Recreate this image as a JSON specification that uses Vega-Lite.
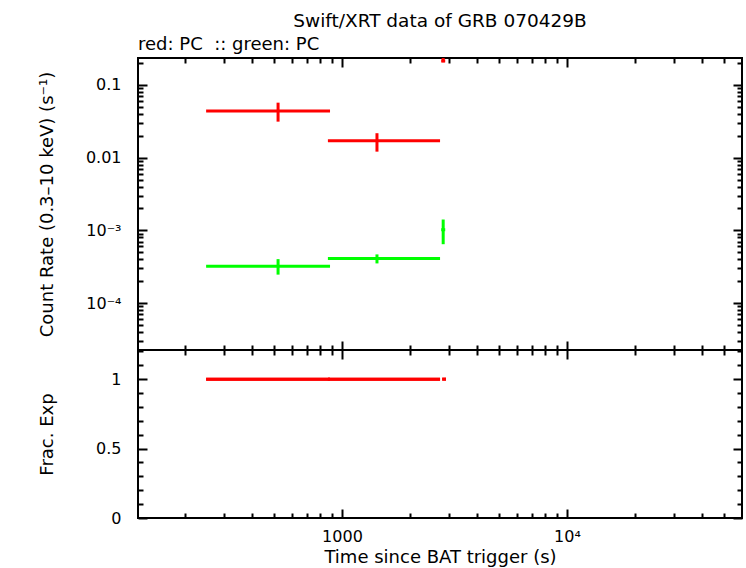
{
  "$schema": "https://vega.github.io/schema/vega-lite/v6.json",
  "autosize": {"type": "pad"},
  "padding": {"left": 36, "top": 11, "right": 4, "bottom": 5},
  "background": "white",
  "bounds": "flush",
  "title": {"text": "Swift/XRT data of GRB 070429B", "anchor": "middle", "frame": "group", "fontSize": 18.5, "fontWeight": "normal", "font": "DejaVu Sans", "color": "black", "offset": 5},
  "config": {
    "view": {"stroke": "black", "strokeWidth": 2},
    "title": {"font": "DejaVu Sans", "color": "black"},
    "axis": {"domain": false, "grid": false, "tickColor": "black", "tickWidth": 2, "labelFont": "DejaVu Sans", "labelFontSize": 16, "labelColor": "black", "titleFont": "DejaVu Sans", "titleFontSize": 18, "titleFontWeight": "normal", "titleColor": "black", "labelOverlap": false, "labelFlush": false, "labelPadding": 19},
    "axisLeft": {"labelPadding": 26}
  },
  "datasets": {
    "rate": [
      {"series": "red", "t": 520, "tlo": 249, "thi": 885, "rate": 0.0438, "rlo": 0.0313, "rhi": 0.0571},
      {"series": "red", "t": 1431, "tlo": 866, "thi": 2729, "rate": 0.01714, "rlo": 0.0121, "rhi": 0.0217},
      {"series": "red", "t": 2818, "tlo": 2762, "thi": 2877, "rate": 0.214, "rlo": 0.205, "rhi": 0.6},
      {"series": "green", "t": 520, "tlo": 249, "thi": 885, "rate": 0.00032, "rlo": 0.000246, "rhi": 0.000402},
      {"series": "green", "t": 1431, "tlo": 866, "thi": 2729, "rate": 0.000411, "rlo": 0.000351, "rhi": 0.000467},
      {"series": "green", "t": 2818, "tlo": 2762, "thi": 2877, "rate": 0.00102, "rlo": 0.000645, "rhi": 0.00141}
    ],
    "frac": [
      {"tlo": 249, "thi": 885, "frac": 1},
      {"tlo": 866, "thi": 2729, "frac": 1},
      {"tlo": 2790, "thi": 2900, "frac": 1}
    ]
  },
  "spacing": 0,
  "vconcat": [
    {
      "width": 604,
      "height": 292,
      "title": {"text": "red: PC\u00a0 :: green: PC", "anchor": "start", "frame": "group", "fontSize": 18, "fontWeight": "normal", "offset": 1},
      "data": {"name": "rate"},
      "layer": [
        {
          "mark": {"type": "rule", "strokeWidth": 3, "clip": true},
          "encoding": {
            "x": {"field": "tlo", "type": "quantitative", "scale": {"type": "log", "domain": [124, 60000], "nice": false},
              "axis": {"orient": "bottom", "title": null, "labels": false, "values": [200,300,400,500,600,700,800,900,1000,2000,3000,4000,5000,6000,7000,8000,9000,10000,20000,30000,40000,50000],
                "tickSize": {"condition": {"test": "datum.value==1000||datum.value==10000", "value": -9}, "value": -5}}},
            "x2": {"field": "thi"},
            "y": {"field": "rate", "type": "quantitative", "scale": {"type": "log", "domain": [2.26e-5, 0.235], "nice": false},
              "axis": {"orient": "left", "title": "Count Rate (0.3–10 keV) (s⁻¹)", "titleX": -91, "titleY": 146, "titleAngle": -90, "titleAlign": "center", "titleBaseline": "middle",
                "values": [0.00003,0.00004,0.00005,0.00006,0.00007,0.00008,0.00009,0.0001,0.0002,0.0003,0.0004,0.0005,0.0006,0.0007,0.0008,0.0009,0.001,0.002,0.003,0.004,0.005,0.006,0.007,0.008,0.009,0.01,0.02,0.03,0.04,0.05,0.06,0.07,0.08,0.09,0.1,0.2],
                "labelExpr": "datum.value==0.1?'0.1':datum.value==0.01?'0.01':datum.value==0.001?'10⁻³':datum.value==0.0001?'10⁻⁴':''",
                "tickSize": {"condition": {"test": "datum.value==0.1||datum.value==0.01||datum.value==0.001||datum.value==0.0001", "value": -9}, "value": -5}}},
            "color": {"field": "series", "type": "nominal", "scale": {"domain": ["red", "green"], "range": ["#ff0000", "#00ff00"]}, "legend": null}
          }
        },
        {
          "mark": {"type": "rule", "strokeWidth": 3, "clip": true},
          "encoding": {
            "x": {"field": "t", "type": "quantitative", "scale": {"type": "log", "domain": [124, 60000], "nice": false},
              "axis": {"orient": "top", "title": null, "labels": false, "values": [200,300,400,500,600,700,800,900,1000,2000,3000,4000,5000,6000,7000,8000,9000,10000,20000,30000,40000,50000],
                "tickSize": {"condition": {"test": "datum.value==1000||datum.value==10000", "value": -9}, "value": -5}}},
            "y": {"field": "rlo", "type": "quantitative", "scale": {"type": "log", "domain": [2.26e-5, 0.235], "nice": false},
              "axis": {"orient": "right", "title": null, "labels": false,
                "values": [0.00003,0.00004,0.00005,0.00006,0.00007,0.00008,0.00009,0.0001,0.0002,0.0003,0.0004,0.0005,0.0006,0.0007,0.0008,0.0009,0.001,0.002,0.003,0.004,0.005,0.006,0.007,0.008,0.009,0.01,0.02,0.03,0.04,0.05,0.06,0.07,0.08,0.09,0.1,0.2],
                "tickSize": {"condition": {"test": "datum.value==0.1||datum.value==0.01||datum.value==0.001||datum.value==0.0001", "value": -9}, "value": -5}}},
            "y2": {"field": "rhi"},
            "color": {"field": "series", "type": "nominal", "scale": {"domain": ["red", "green"], "range": ["#ff0000", "#00ff00"]}, "legend": null}
          }
        }
      ],
      "resolve": {"axis": {"x": "independent", "y": "independent"}}
    },
    {
      "width": 604,
      "height": 168,
      "data": {"name": "frac"},
      "layer": [
        {
          "mark": {"type": "rule", "strokeWidth": 3, "clip": true, "color": "#ff0000"},
          "encoding": {
            "x": {"field": "tlo", "type": "quantitative", "scale": {"type": "log", "domain": [124, 60000], "nice": false},
              "axis": {"orient": "bottom", "title": "Time since BAT trigger (s)", "titleY": 39, "titleBaseline": "middle",
                "values": [200,300,400,500,600,700,800,900,1000,2000,3000,4000,5000,6000,7000,8000,9000,10000,20000,30000,40000,50000],
                "labelExpr": "datum.value==1000?'1000':datum.value==10000?'10⁴':''",
                "tickSize": {"condition": {"test": "datum.value==1000||datum.value==10000", "value": -9}, "value": -5}}},
            "x2": {"field": "thi"},
            "y": {"field": "frac", "type": "quantitative", "scale": {"domain": [0, 1.21], "nice": false, "zero": false},
              "axis": {"orient": "left", "title": "Frac. Exp", "titleX": -91, "titleY": 84, "titleAngle": -90, "titleAlign": "center", "titleBaseline": "middle",
                "values": [0,0.1,0.2,0.3,0.4,0.5,0.6,0.7,0.8,0.9,1,1.1,1.2],
                "labelExpr": "datum.value==0?'0':datum.value==0.5?'0.5':datum.value==1?'1':''",
                "tickSize": {"condition": {"test": "datum.value==0||datum.value==0.5||datum.value==1", "value": -9}, "value": -5}}}
          }
        },
        {
          "mark": {"type": "rule", "strokeWidth": 3, "clip": true, "color": "#ff0000"},
          "encoding": {
            "x": {"field": "tlo", "type": "quantitative", "scale": {"type": "log", "domain": [124, 60000], "nice": false},
              "axis": {"orient": "top", "title": null, "labels": false,
                "values": [200,300,400,500,600,700,800,900,1000,2000,3000,4000,5000,6000,7000,8000,9000,10000,20000,30000,40000,50000],
                "tickSize": {"condition": {"test": "datum.value==1000||datum.value==10000", "value": -9}, "value": -5}}},
            "x2": {"field": "thi"},
            "y": {"field": "frac", "type": "quantitative", "scale": {"domain": [0, 1.21], "nice": false, "zero": false},
              "axis": {"orient": "right", "title": null, "labels": false,
                "values": [0,0.1,0.2,0.3,0.4,0.5,0.6,0.7,0.8,0.9,1,1.1,1.2],
                "tickSize": {"condition": {"test": "datum.value==0||datum.value==0.5||datum.value==1", "value": -9}, "value": -5}}}
          }
        }
      ],
      "resolve": {"axis": {"x": "independent", "y": "independent"}}
    }
  ]
}
